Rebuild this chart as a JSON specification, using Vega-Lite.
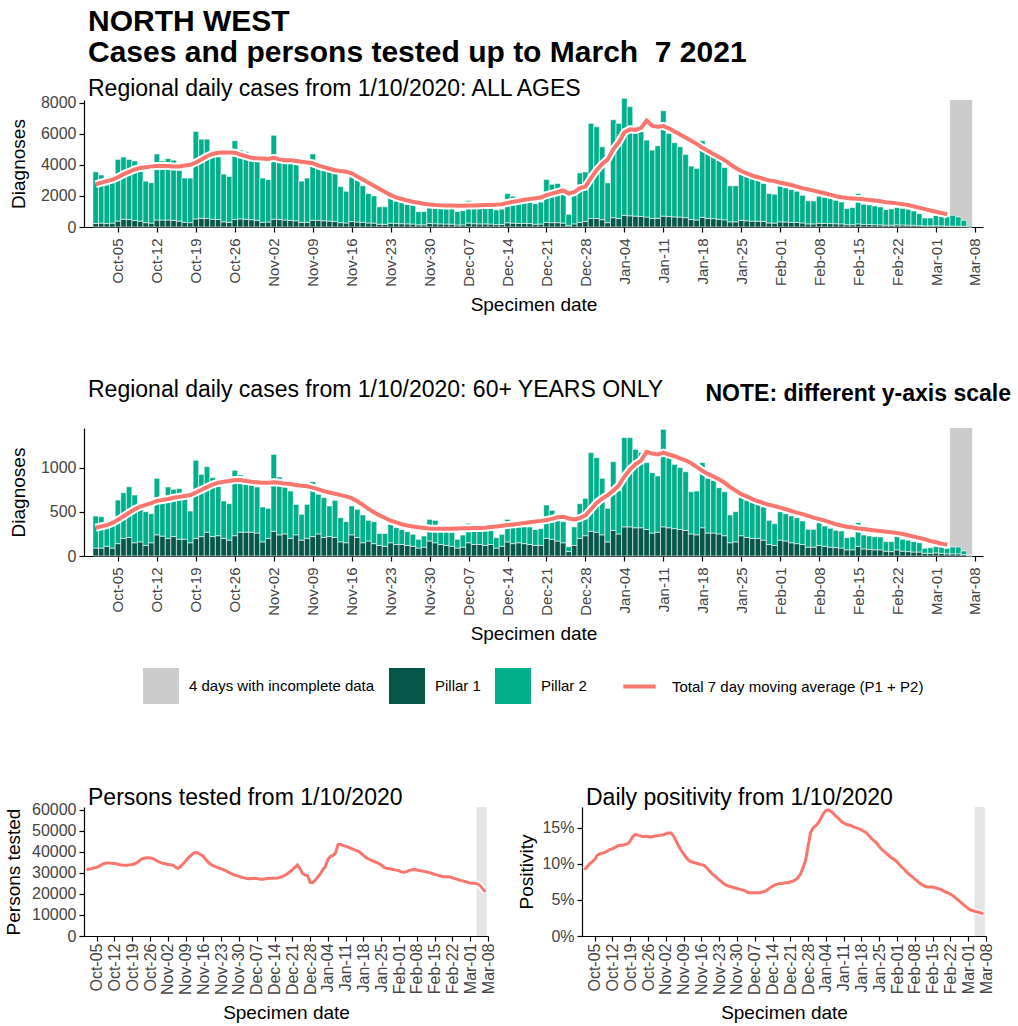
{
"$schema":"https://vega.github.io/schema/vega-lite/v6.json",
"background":"white",
"padding":{"left":4,"top":6,"right":2,"bottom":2},
"config":{
 "font":"Liberation Sans",
 "view":{"stroke":null},
 "axis":{"grid":false,"labelOverlap":false,"domainColor":"black","tickColor":"black","domainWidth":1.2,"tickWidth":1.2,"tickSize":5,"labelColor":"#444444","labelFontSize":16,"titleFontSize":19,"titleFontWeight":"normal","titleColor":"black","labelPadding":3},
 "axisY":{"titlePadding":12},
 "title":{"anchor":"start","frame":"group","color":"black","fontWeight":"normal","subtitleColor":"black"},
 "legend":{"layout":{"bottom":{"anchor":"middle","direction":"horizontal","margin":34}}}
},
"datasets":{
"g":[{"k":"inc","s":"2021/03/03 12:00","e":"2021/03/07 12:00"}],
"d":[
{"d":"2020/10/01","a1":230,"a2":3320,"am":2750,"o1":90,"o2":363,"om":320,"t":31500,"p":9.2},
{"d":"2020/10/02","a1":250,"a2":3100,"am":2850,"o1":90,"o2":356,"om":335,"t":31800,"p":9.6},
{"d":"2020/10/03","a1":220,"a2":2480,"am":2950,"o1":110,"o2":241,"om":350,"t":32000,"p":10.0},
{"d":"2020/10/04","a1":250,"a2":2600,"am":3050,"o1":90,"o2":307,"om":375,"t":32400,"p":10.3},
{"d":"2020/10/05","a1":380,"a2":3970,"am":3200,"o1":140,"o2":494,"om":410,"t":32600,"p":10.6},
{"d":"2020/10/06","a1":500,"a2":4000,"am":3400,"o1":200,"o2":516,"om":450,"t":33200,"p":11.2},
{"d":"2020/10/07","a1":480,"a2":3870,"am":3550,"o1":210,"o2":575,"om":490,"t":33900,"p":11.4},
{"d":"2020/10/08","a1":420,"a2":3830,"am":3700,"o1":150,"o2":541,"om":530,"t":34500,"p":11.5},
{"d":"2020/10/09","a1":380,"a2":3270,"am":3800,"o1":160,"o2":433,"om":560,"t":34700,"p":11.6},
{"d":"2020/10/10","a1":280,"a2":2670,"am":3850,"o1":120,"o2":382,"om":580,"t":34700,"p":11.8},
{"d":"2020/10/11","a1":250,"a2":2600,"am":3900,"o1":150,"o2":329,"om":600,"t":34600,"p":12.0},
{"d":"2020/10/12","a1":450,"a2":4250,"am":3920,"o1":240,"o2":640,"om":625,"t":34500,"p":12.1},
{"d":"2020/10/13","a1":450,"a2":3800,"am":3920,"o1":225,"o2":390,"om":635,"t":34200,"p":12.3},
{"d":"2020/10/14","a1":450,"a2":3950,"am":3930,"o1":200,"o2":582,"om":645,"t":33900,"p":12.5},
{"d":"2020/10/15","a1":430,"a2":3870,"am":3900,"o1":220,"o2":536,"om":660,"t":33700,"p":12.6},
{"d":"2020/10/16","a1":380,"a2":3270,"am":3900,"o1":190,"o2":573,"om":670,"t":33600,"p":12.6},
{"d":"2020/10/17","a1":300,"a2":2850,"am":3950,"o1":190,"o2":490,"om":680,"t":33600,"p":12.7},
{"d":"2020/10/18","a1":280,"a2":2870,"am":4000,"o1":150,"o2":360,"om":690,"t":33800,"p":12.8},
{"d":"2020/10/19","a1":520,"a2":5630,"am":4150,"o1":200,"o2":884,"om":720,"t":34000,"p":13.2},
{"d":"2020/10/20","a1":560,"a2":5090,"am":4350,"o1":220,"o2":705,"om":750,"t":34300,"p":13.8},
{"d":"2020/10/21","a1":550,"a2":5100,"am":4550,"o1":270,"o2":742,"om":780,"t":35000,"p":14.1},
{"d":"2020/10/22","a1":500,"a2":4000,"am":4700,"o1":220,"o2":668,"om":810,"t":36000,"p":14.0},
{"d":"2020/10/23","a1":480,"a2":4020,"am":4780,"o1":230,"o2":560,"om":830,"t":36800,"p":13.9},
{"d":"2020/10/24","a1":330,"a2":3070,"am":4800,"o1":200,"o2":423,"om":840,"t":37100,"p":13.8},
{"d":"2020/10/25","a1":300,"a2":2950,"am":4800,"o1":180,"o2":413,"om":850,"t":37200,"p":13.8},
{"d":"2020/10/26","a1":480,"a2":5070,"am":4780,"o1":230,"o2":741,"om":860,"t":37100,"p":13.8},
{"d":"2020/10/27","a1":520,"a2":4430,"am":4650,"o1":270,"o2":648,"om":860,"t":36900,"p":13.7},
{"d":"2020/10/28","a1":500,"a2":4350,"am":4550,"o1":270,"o2":625,"om":850,"t":36200,"p":13.8},
{"d":"2020/10/29","a1":470,"a2":3930,"am":4450,"o1":270,"o2":610,"om":840,"t":35500,"p":13.9},
{"d":"2020/10/30","a1":430,"a2":3920,"am":4420,"o1":260,"o2":522,"om":835,"t":35000,"p":13.9},
{"d":"2020/10/31","a1":300,"a2":2850,"am":4400,"o1":160,"o2":395,"om":830,"t":34600,"p":14.0},
{"d":"2020/11/01","a1":320,"a2":2730,"am":4380,"o1":200,"o2":340,"om":830,"t":34300,"p":14.0},
{"d":"2020/11/02","a1":500,"a2":5400,"am":4450,"o1":280,"o2":872,"om":835,"t":34000,"p":14.2},
{"d":"2020/11/03","a1":480,"a2":3820,"am":4350,"o1":240,"o2":655,"om":830,"t":33900,"p":14.3},
{"d":"2020/11/04","a1":450,"a2":3750,"am":4300,"o1":250,"o2":532,"om":820,"t":33700,"p":14.3},
{"d":"2020/11/05","a1":420,"a2":3730,"am":4300,"o1":200,"o2":536,"om":815,"t":32800,"p":13.9},
{"d":"2020/11/06","a1":400,"a2":3600,"am":4250,"o1":240,"o2":345,"om":805,"t":32100,"p":13.2},
{"d":"2020/11/07","a1":300,"a2":2650,"am":4200,"o1":180,"o2":292,"om":795,"t":33000,"p":12.5},
{"d":"2020/11/08","a1":300,"a2":2850,"am":4150,"o1":200,"o2":385,"om":790,"t":34300,"p":11.9},
{"d":"2020/11/09","a1":430,"a2":4270,"am":4100,"o1":220,"o2":622,"om":775,"t":35600,"p":11.4},
{"d":"2020/11/10","a1":420,"a2":3380,"am":3950,"o1":250,"o2":449,"om":755,"t":37000,"p":10.9},
{"d":"2020/11/11","a1":400,"a2":3350,"am":3850,"o1":210,"o2":451,"om":735,"t":38200,"p":10.5},
{"d":"2020/11/12","a1":380,"a2":3320,"am":3750,"o1":220,"o2":347,"om":720,"t":39300,"p":10.3},
{"d":"2020/11/13","a1":350,"a2":3150,"am":3650,"o1":210,"o2":421,"om":705,"t":39700,"p":10.2},
{"d":"2020/11/14","a1":280,"a2":2320,"am":3600,"o1":160,"o2":274,"om":690,"t":39300,"p":10.1},
{"d":"2020/11/15","a1":260,"a2":2040,"am":3550,"o1":150,"o2":239,"om":675,"t":38600,"p":10.0},
{"d":"2020/11/16","a1":350,"a2":2850,"am":3450,"o1":240,"o2":327,"om":655,"t":37800,"p":9.9},
{"d":"2020/11/17","a1":320,"a2":2680,"am":3250,"o1":210,"o2":319,"om":620,"t":36200,"p":9.8},
{"d":"2020/11/18","a1":300,"a2":2350,"am":3050,"o1":150,"o2":315,"om":580,"t":34900,"p":9.5},
{"d":"2020/11/19","a1":260,"a2":1890,"am":2850,"o1":170,"o2":234,"om":535,"t":34000,"p":9.1},
{"d":"2020/11/20","a1":250,"a2":1750,"am":2650,"o1":140,"o2":249,"om":495,"t":33300,"p":8.7},
{"d":"2020/11/21","a1":180,"a2":1120,"am":2450,"o1":120,"o2":135,"om":460,"t":32800,"p":8.4},
{"d":"2020/11/22","a1":170,"a2":1130,"am":2250,"o1":110,"o2":145,"om":430,"t":32300,"p":8.1},
{"d":"2020/11/23","a1":240,"a2":1630,"am":2050,"o1":150,"o2":209,"om":400,"t":31900,"p":7.8},
{"d":"2020/11/24","a1":220,"a2":1440,"am":1900,"o1":130,"o2":191,"om":380,"t":31500,"p":7.5},
{"d":"2020/11/25","a1":210,"a2":1350,"am":1800,"o1":130,"o2":168,"om":360,"t":30900,"p":7.2},
{"d":"2020/11/26","a1":200,"a2":1250,"am":1700,"o1":120,"o2":156,"om":345,"t":30200,"p":7.0},
{"d":"2020/11/27","a1":190,"a2":1210,"am":1620,"o1":110,"o2":136,"om":335,"t":29600,"p":6.9},
{"d":"2020/11/28","a1":140,"a2":850,"am":1560,"o1":90,"o2":99,"om":325,"t":29100,"p":6.8},
{"d":"2020/11/29","a1":140,"a2":850,"am":1500,"o1":100,"o2":127,"om":318,"t":28700,"p":6.7},
{"d":"2020/11/30","a1":230,"a2":1320,"am":1450,"o1":170,"o2":245,"om":312,"t":28300,"p":6.6},
{"d":"2020/12/01","a1":210,"a2":1290,"am":1420,"o1":150,"o2":254,"om":310,"t":27900,"p":6.5},
{"d":"2020/12/02","a1":200,"a2":1280,"am":1400,"o1":130,"o2":170,"om":308,"t":27600,"p":6.4},
{"d":"2020/12/03","a1":190,"a2":1260,"am":1390,"o1":120,"o2":170,"om":308,"t":27300,"p":6.3},
{"d":"2020/12/04","a1":180,"a2":1220,"am":1380,"o1":110,"o2":160,"om":310,"t":27200,"p":6.1},
{"d":"2020/12/05","a1":130,"a2":870,"am":1370,"o1":90,"o2":100,"om":312,"t":27300,"p":6.0},
{"d":"2020/12/06","a1":140,"a2":910,"am":1370,"o1":100,"o2":138,"om":313,"t":27400,"p":6.0},
{"d":"2020/12/07","a1":250,"a2":1450,"am":1380,"o1":150,"o2":220,"om":315,"t":27300,"p":6.0},
{"d":"2020/12/08","a1":210,"a2":1290,"am":1390,"o1":130,"o2":170,"om":316,"t":27100,"p":6.0},
{"d":"2020/12/09","a1":200,"a2":1280,"am":1400,"o1":130,"o2":165,"om":318,"t":27000,"p":6.0},
{"d":"2020/12/10","a1":200,"a2":1260,"am":1410,"o1":120,"o2":170,"om":320,"t":27100,"p":6.1},
{"d":"2020/12/11","a1":190,"a2":1260,"am":1420,"o1":130,"o2":200,"om":328,"t":27300,"p":6.2},
{"d":"2020/12/12","a1":150,"a2":950,"am":1440,"o1":90,"o2":118,"om":335,"t":27400,"p":6.4},
{"d":"2020/12/13","a1":160,"a2":990,"am":1470,"o1":110,"o2":136,"om":342,"t":27400,"p":6.7},
{"d":"2020/12/14","a1":270,"a2":1880,"am":1550,"o1":160,"o2":255,"om":350,"t":27500,"p":6.9},
{"d":"2020/12/15","a1":250,"a2":1730,"am":1620,"o1":140,"o2":200,"om":358,"t":27600,"p":7.1},
{"d":"2020/12/16","a1":230,"a2":1570,"am":1680,"o1":150,"o2":254,"om":366,"t":27800,"p":7.2},
{"d":"2020/12/17","a1":230,"a2":1570,"am":1750,"o1":140,"o2":190,"om":374,"t":28200,"p":7.3},
{"d":"2020/12/18","a1":220,"a2":1530,"am":1800,"o1":130,"o2":199,"om":382,"t":28800,"p":7.3},
{"d":"2020/12/19","a1":180,"a2":1320,"am":1850,"o1":120,"o2":180,"om":390,"t":29600,"p":7.4},
{"d":"2020/12/20","a1":190,"a2":1410,"am":1900,"o1":120,"o2":190,"om":398,"t":30500,"p":7.4},
{"d":"2020/12/21","a1":300,"a2":2760,"am":2050,"o1":200,"o2":378,"om":408,"t":31500,"p":7.5},
{"d":"2020/12/22","a1":280,"a2":2470,"am":2150,"o1":190,"o2":328,"om":420,"t":32600,"p":7.6},
{"d":"2020/12/23","a1":280,"a2":2520,"am":2250,"o1":170,"o2":250,"om":440,"t":33700,"p":7.8},
{"d":"2020/12/24","a1":250,"a2":2120,"am":2350,"o1":150,"o2":239,"om":445,"t":32000,"p":8.1},
{"d":"2020/12/25","a1":90,"a2":730,"am":2150,"o1":50,"o2":55,"om":425,"t":29700,"p":8.6},
{"d":"2020/12/26","a1":200,"a2":2170,"am":2250,"o1":120,"o2":210,"om":415,"t":29000,"p":9.5},
{"d":"2020/12/27","a1":300,"a2":3180,"am":2500,"o1":200,"o2":393,"om":430,"t":28600,"p":10.5},
{"d":"2020/12/28","a1":350,"a2":3190,"am":2600,"o1":230,"o2":423,"om":460,"t":25500,"p":12.5},
{"d":"2020/12/29","a1":550,"a2":6120,"am":3150,"o1":280,"o2":891,"om":530,"t":25300,"p":14.4},
{"d":"2020/12/30","a1":550,"a2":5900,"am":3650,"o1":270,"o2":844,"om":600,"t":26500,"p":15.0},
{"d":"2020/12/31","a1":470,"a2":4690,"am":4050,"o1":240,"o2":640,"om":650,"t":28000,"p":15.3},
{"d":"2021/01/01","a1":280,"a2":2560,"am":4350,"o1":160,"o2":380,"om":690,"t":29500,"p":15.7},
{"d":"2021/01/02","a1":600,"a2":6300,"am":5000,"o1":290,"o2":779,"om":740,"t":31500,"p":16.3},
{"d":"2021/01/03","a1":550,"a2":6120,"am":5450,"o1":250,"o2":490,"om":800,"t":33000,"p":17.0},
{"d":"2021/01/04","a1":750,"a2":7530,"am":6100,"o1":330,"o2":1011,"om":900,"t":36500,"p":17.4},
{"d":"2021/01/05","a1":720,"a2":7020,"am":6280,"o1":330,"o2":1011,"om":980,"t":37800,"p":17.5},
{"d":"2021/01/06","a1":700,"a2":5430,"am":6250,"o1":320,"o2":889,"om":1040,"t":38300,"p":17.3},
{"d":"2021/01/07","a1":680,"a2":5450,"am":6380,"o1":320,"o2":851,"om":1080,"t":39500,"p":17.0},
{"d":"2021/01/08","a1":640,"a2":4950,"am":6850,"o1":300,"o2":758,"om":1180,"t":43500,"p":16.6},
{"d":"2021/01/09","a1":550,"a2":4400,"am":6500,"o1":260,"o2":684,"om":1160,"t":43500,"p":16.3},
{"d":"2021/01/10","a1":560,"a2":4660,"am":6450,"o1":270,"o2":636,"om":1150,"t":43000,"p":15.9},
{"d":"2021/01/11","a1":700,"a2":6780,"am":6500,"o1":330,"o2":1105,"om":1170,"t":42600,"p":15.7},
{"d":"2021/01/12","a1":680,"a2":5340,"am":6350,"o1":320,"o2":794,"om":1150,"t":42200,"p":15.5},
{"d":"2021/01/13","a1":650,"a2":4770,"am":6150,"o1":310,"o2":728,"om":1130,"t":41700,"p":15.4},
{"d":"2021/01/14","a1":640,"a2":4520,"am":5950,"o1":300,"o2":701,"om":1105,"t":41200,"p":15.3},
{"d":"2021/01/15","a1":600,"a2":4070,"am":5750,"o1":290,"o2":665,"om":1085,"t":40700,"p":15.1},
{"d":"2021/01/16","a1":480,"a2":3440,"am":5550,"o1":250,"o2":478,"om":1050,"t":40200,"p":15.0},
{"d":"2021/01/17","a1":450,"a2":3320,"am":5350,"o1":240,"o2":496,"om":1010,"t":39300,"p":14.9},
{"d":"2021/01/18","a1":620,"a2":4930,"am":5100,"o1":320,"o2":738,"om":965,"t":38300,"p":14.7},
{"d":"2021/01/19","a1":550,"a2":4180,"am":4900,"o1":260,"o2":620,"om":930,"t":37300,"p":14.5},
{"d":"2021/01/20","a1":540,"a2":4020,"am":4700,"o1":260,"o2":597,"om":900,"t":36600,"p":14.3},
{"d":"2021/01/21","a1":500,"a2":3800,"am":4500,"o1":250,"o2":524,"om":870,"t":36000,"p":13.9},
{"d":"2021/01/22","a1":460,"a2":3370,"am":4300,"o1":230,"o2":498,"om":830,"t":35500,"p":13.5},
{"d":"2021/01/23","a1":330,"a2":2320,"am":4050,"o1":150,"o2":315,"om":780,"t":35000,"p":13.2},
{"d":"2021/01/24","a1":330,"a2":2320,"am":3800,"o1":160,"o2":342,"om":740,"t":34500,"p":12.9},
{"d":"2021/01/25","a1":430,"a2":3120,"am":3600,"o1":230,"o2":438,"om":700,"t":33800,"p":12.4},
{"d":"2021/01/26","a1":400,"a2":2890,"am":3450,"o1":210,"o2":421,"om":675,"t":32700,"p":12.0},
{"d":"2021/01/27","a1":380,"a2":2740,"am":3300,"o1":200,"o2":404,"om":645,"t":32200,"p":11.7},
{"d":"2021/01/28","a1":370,"a2":2650,"am":3200,"o1":200,"o2":385,"om":620,"t":32000,"p":11.4},
{"d":"2021/01/29","a1":350,"a2":2450,"am":3100,"o1":180,"o2":375,"om":600,"t":31800,"p":11.1},
{"d":"2021/01/30","a1":260,"a2":1890,"am":3000,"o1":130,"o2":274,"om":580,"t":31500,"p":10.8},
{"d":"2021/01/31","a1":250,"a2":1860,"am":2950,"o1":120,"o2":246,"om":565,"t":31300,"p":10.6},
{"d":"2021/02/01","a1":330,"a2":2320,"am":2850,"o1":180,"o2":322,"om":548,"t":31000,"p":10.3},
{"d":"2021/02/02","a1":320,"a2":2200,"am":2780,"o1":170,"o2":309,"om":530,"t":30400,"p":9.9},
{"d":"2021/02/03","a1":300,"a2":2110,"am":2700,"o1":150,"o2":303,"om":510,"t":30300,"p":9.5},
{"d":"2021/02/04","a1":290,"a2":2010,"am":2600,"o1":140,"o2":294,"om":492,"t":30600,"p":9.2},
{"d":"2021/02/05","a1":260,"a2":1780,"am":2500,"o1":130,"o2":267,"om":475,"t":31200,"p":8.8},
{"d":"2021/02/06","a1":200,"a2":1480,"am":2420,"o1":100,"o2":202,"om":455,"t":31500,"p":8.5},
{"d":"2021/02/07","a1":200,"a2":1480,"am":2340,"o1":100,"o2":202,"om":435,"t":31600,"p":8.2},
{"d":"2021/02/08","a1":240,"a2":1740,"am":2250,"o1":120,"o2":258,"om":418,"t":31400,"p":7.9},
{"d":"2021/02/09","a1":230,"a2":1670,"am":2170,"o1":110,"o2":230,"om":400,"t":31100,"p":7.6},
{"d":"2021/02/10","a1":220,"a2":1610,"am":2080,"o1":100,"o2":214,"om":380,"t":30900,"p":7.3},
{"d":"2021/02/11","a1":210,"a2":1510,"am":1980,"o1":95,"o2":196,"om":360,"t":30700,"p":7.1},
{"d":"2021/02/12","a1":200,"a2":1410,"am":1920,"o1":90,"o2":193,"om":345,"t":30400,"p":6.9},
{"d":"2021/02/13","a1":150,"a2":1040,"am":1870,"o1":70,"o2":138,"om":332,"t":30100,"p":6.8},
{"d":"2021/02/14","a1":150,"a2":1100,"am":1840,"o1":70,"o2":145,"om":322,"t":29700,"p":6.8},
{"d":"2021/02/15","a1":200,"a2":1950,"am":1810,"o1":110,"o2":268,"om":312,"t":29300,"p":6.8},
{"d":"2021/02/16","a1":170,"a2":1290,"am":1780,"o1":80,"o2":158,"om":305,"t":28900,"p":6.7},
{"d":"2021/02/17","a1":160,"a2":1260,"am":1740,"o1":75,"o2":152,"om":298,"t":28600,"p":6.6},
{"d":"2021/02/18","a1":150,"a2":1200,"am":1700,"o1":70,"o2":149,"om":290,"t":28300,"p":6.5},
{"d":"2021/02/19","a1":140,"a2":1150,"am":1650,"o1":70,"o2":145,"om":282,"t":28200,"p":6.3},
{"d":"2021/02/20","a1":120,"a2":1000,"am":1600,"o1":55,"o2":108,"om":275,"t":28100,"p":6.1},
{"d":"2021/02/21","a1":120,"a2":1040,"am":1560,"o1":50,"o2":113,"om":268,"t":28000,"p":6.0},
{"d":"2021/02/22","a1":140,"a2":1110,"am":1520,"o1":70,"o2":232,"om":260,"t":27700,"p":5.8},
{"d":"2021/02/23","a1":130,"a2":1070,"am":1470,"o1":55,"o2":134,"om":250,"t":27300,"p":5.6},
{"d":"2021/02/24","a1":120,"a2":1020,"am":1410,"o1":50,"o2":128,"om":235,"t":26900,"p":5.3},
{"d":"2021/02/25","a1":110,"a2":920,"am":1330,"o1":45,"o2":118,"om":220,"t":26500,"p":5.0},
{"d":"2021/02/26","a1":90,"a2":770,"am":1240,"o1":45,"o2":106,"om":205,"t":26200,"p":4.7},
{"d":"2021/02/27","a1":70,"a2":510,"am":1150,"o1":30,"o2":57,"om":188,"t":25900,"p":4.4},
{"d":"2021/02/28","a1":70,"a2":510,"am":1060,"o1":30,"o2":64,"om":170,"t":25500,"p":4.1},
{"d":"2021/03/01","a1":80,"a2":675,"am":980,"o1":35,"o2":71,"om":155,"t":25200,"p":3.8},
{"d":"2021/03/02","a1":70,"a2":620,"am":900,"o1":30,"o2":72,"om":140,"t":25100,"p":3.6},
{"d":"2021/03/03","a1":60,"a2":585,"am":820,"o1":25,"o2":62,"om":128,"t":25100,"p":3.5},
{"d":"2021/03/04","a1":60,"a2":695,"o1":25,"o2":77,"t":24700,"p":3.4},
{"d":"2021/03/05","a1":50,"a2":595,"o1":25,"o2":77,"t":23800,"p":3.3},
{"d":"2021/03/06","a1":40,"a2":390,"o1":15,"o2":42,"t":22200,"p":3.2},
{"d":"2021/03/07","a1":10,"a2":90,"o1":3,"o2":8,"t":21000,"p":3.1}
]},
"spacing":82,
"vconcat":[
{"spacing":64,
 "resolve":{"scale":{"color":"independent","stroke":"independent"}},
 "vconcat":[
 {"width":899,"height":127,
  "title":{"text":["NORTH WEST","Cases and persons tested up to March\u00a0 7 2021"],"fontSize":30,"fontWeight":"bold","lineHeight":31,"subtitle":"Regional daily cases from 1/10/2020: ALL AGES","subtitleFontSize":23,"subtitlePadding":10,"offset":-6,"dx":4},
  "layer":[
   {"data":{"name":"g"},"mark":"rect",
    "encoding":{"x":{"field":"s","type":"temporal","title":"Specimen date","scale":{"domain":[{"year":2020,"month":9,"date":29,"hours":19},{"year":2021,"month":3,"date":8,"hours":13}]}},"x2":{"field":"e"},
     "color":{"field":"k","type":"nominal","scale":{"domain":["inc","a1","a2"],"range":["#cccccc","#06574a","#00af8c"]},"legend":null}}},
   {"data":{"name":"d"},"transform":[{"fold":["a1","a2"],"as":["k","n"]}],
    "mark":{"type":"bar","size":5.6,"stroke":"white","strokeWidth":0.6},
    "encoding":{
     "x":{"field":"d","type":"temporal","title":"Specimen date","scale":{"domain":[{"year":2020,"month":9,"date":29,"hours":19},{"year":2021,"month":3,"date":8,"hours":13}]},
      "axis":{"format":"%b-%d","labelAngle":270,"labelFontSize":15,"labelPadding":6,"titlePadding":9,"labelOverlap":false,"tickCount":40,"values":[{"year":2020,"month":10,"date":5},{"year":2020,"month":10,"date":12},{"year":2020,"month":10,"date":19},{"year":2020,"month":10,"date":26},{"year":2020,"month":11,"date":2},{"year":2020,"month":11,"date":9},{"year":2020,"month":11,"date":16},{"year":2020,"month":11,"date":23},{"year":2020,"month":11,"date":30},{"year":2020,"month":12,"date":7},{"year":2020,"month":12,"date":14},{"year":2020,"month":12,"date":21},{"year":2020,"month":12,"date":28},{"year":2021,"month":1,"date":4},{"year":2021,"month":1,"date":11},{"year":2021,"month":1,"date":18},{"year":2021,"month":1,"date":25},{"year":2021,"month":2,"date":1},{"year":2021,"month":2,"date":8},{"year":2021,"month":2,"date":15},{"year":2021,"month":2,"date":22},{"year":2021,"month":3,"date":1},{"year":2021,"month":3,"date":8}]}},
     "y":{"field":"n","type":"quantitative","stack":"zero","title":"Diagnoses","scale":{"domain":[0,8170],"nice":false},"axis":{"values":[0,2000,4000,6000,8000],"tickCount":40,"format":"d","labelOverlap":false}},
     "color":{"field":"k","type":"nominal","legend":null},
     "order":{"field":"k","sort":"ascending"}}},
   {"data":{"name":"d"},"mark":{"type":"line","color":"white","strokeWidth":8},
    "encoding":{"x":{"field":"d","type":"temporal","title":"Specimen date"},"y":{"field":"am","type":"quantitative","title":"Diagnoses"}}},
   {"data":{"name":"d"},"mark":{"type":"line","color":"#F8766D","strokeWidth":4},
    "encoding":{"x":{"field":"d","type":"temporal","title":"Specimen date"},"y":{"field":"am","type":"quantitative","title":"Diagnoses"}}}
  ]},
 {"title":{"text":"NOTE: different y-axis scale","fontSize":23,"fontWeight":"bold","anchor":"end","frame":"bounds","offset":-27,"dx":28},
  "resolve":{"scale":{"color":"independent","stroke":"independent"}},
  "vconcat":[
  {"width":899,"height":128,
   "title":{"text":"Regional daily cases from 1/10/2020: 60+ YEARS ONLY","fontSize":23,"offset":26,"dx":4},
   "layer":[
    {"data":{"name":"g"},"mark":"rect",
     "encoding":{"x":{"field":"s","type":"temporal","title":"Specimen date","scale":{"domain":[{"year":2020,"month":9,"date":29,"hours":19},{"year":2021,"month":3,"date":8,"hours":13}]}},"x2":{"field":"e"},
      "color":{"field":"k","type":"nominal","scale":{"domain":["inc","o1","o2"],"range":["#cccccc","#06574a","#00af8c"]}}}},
    {"data":{"name":"d"},"transform":[{"fold":["o1","o2"],"as":["k","n"]}],
     "mark":{"type":"bar","size":5.6,"stroke":"white","strokeWidth":0.6},
     "encoding":{
      "x":{"field":"d","type":"temporal","title":"Specimen date","scale":{"domain":[{"year":2020,"month":9,"date":29,"hours":19},{"year":2021,"month":3,"date":8,"hours":13}]},
       "axis":{"format":"%b-%d","labelAngle":270,"labelFontSize":15,"labelPadding":6,"titlePadding":9,"labelOverlap":false,"tickCount":40,"values":[{"year":2020,"month":10,"date":5},{"year":2020,"month":10,"date":12},{"year":2020,"month":10,"date":19},{"year":2020,"month":10,"date":26},{"year":2020,"month":11,"date":2},{"year":2020,"month":11,"date":9},{"year":2020,"month":11,"date":16},{"year":2020,"month":11,"date":23},{"year":2020,"month":11,"date":30},{"year":2020,"month":12,"date":7},{"year":2020,"month":12,"date":14},{"year":2020,"month":12,"date":21},{"year":2020,"month":12,"date":28},{"year":2021,"month":1,"date":4},{"year":2021,"month":1,"date":11},{"year":2021,"month":1,"date":18},{"year":2021,"month":1,"date":25},{"year":2021,"month":2,"date":1},{"year":2021,"month":2,"date":8},{"year":2021,"month":2,"date":15},{"year":2021,"month":2,"date":22},{"year":2021,"month":3,"date":1},{"year":2021,"month":3,"date":8}]}},
      "y":{"field":"n","type":"quantitative","stack":"zero","title":"Diagnoses","scale":{"domain":[0,1450],"nice":false},"axis":{"values":[0,500,1000],"tickCount":40,"format":"d","labelOverlap":false}},
      "color":{"field":"k","type":"nominal","legend":{"orient":"bottom","direction":"horizontal","title":null,"symbolType":"square","symbolSize":1296,"symbolStrokeWidth":0,"labelFontSize":15,"labelColor":"black","labelOffset":10,"columnPadding":14,"labelLimit":300,"offset":24,"labelExpr":"datum.label == 'inc' ? '4 days with incomplete data' : datum.label == 'o1' ? 'Pillar 1' : 'Pillar 2'"}},
      "order":{"field":"k","sort":"ascending"}}},
    {"data":{"name":"d"},"mark":{"type":"line","color":"white","strokeWidth":8},
     "encoding":{"x":{"field":"d","type":"temporal","title":"Specimen date"},"y":{"field":"om","type":"quantitative","title":"Diagnoses"}}},
    {"data":{"name":"d"},"mark":{"type":"line","strokeWidth":4},
     "encoding":{"x":{"field":"d","type":"temporal","title":"Specimen date"},"y":{"field":"om","type":"quantitative","title":"Diagnoses"},
      "stroke":{"datum":"Total 7 day moving average (P1 + P2)","type":"nominal","scale":{"range":["#F8766D"]},"legend":{"orient":"bottom","title":null,"symbolType":"stroke","symbolSize":1050,"symbolStrokeWidth":4,"labelFontSize":15,"labelColor":"black","labelOffset":14,"labelLimit":400,"offset":24}}}}
   ]}
  ]}
 ]},
{"spacing":19,
 "hconcat":[
 {"width":404,"height":129,
  "title":{"text":"Persons tested from 1/10/2020","fontSize":23,"offset":-8,"dx":4},
  "layer":[
   {"data":{"name":"g"},"mark":{"type":"rect","color":"#e5e5e5"},
    "encoding":{"x":{"field":"s","type":"temporal","title":"Specimen date","scale":{"domain":[{"year":2020,"month":9,"date":30},{"year":2021,"month":3,"date":8}]},
      "axis":{"format":"%b-%d","labelAngle":270,"labelFontSize":16,"labelPadding":2,"titlePadding":9,"labelOverlap":false,"tickCount":40,"values":[{"year":2020,"month":10,"date":5},{"year":2020,"month":10,"date":12},{"year":2020,"month":10,"date":19},{"year":2020,"month":10,"date":26},{"year":2020,"month":11,"date":2},{"year":2020,"month":11,"date":9},{"year":2020,"month":11,"date":16},{"year":2020,"month":11,"date":23},{"year":2020,"month":11,"date":30},{"year":2020,"month":12,"date":7},{"year":2020,"month":12,"date":14},{"year":2020,"month":12,"date":21},{"year":2020,"month":12,"date":28},{"year":2021,"month":1,"date":4},{"year":2021,"month":1,"date":11},{"year":2021,"month":1,"date":18},{"year":2021,"month":1,"date":25},{"year":2021,"month":2,"date":1},{"year":2021,"month":2,"date":8},{"year":2021,"month":2,"date":15},{"year":2021,"month":2,"date":22},{"year":2021,"month":3,"date":1},{"year":2021,"month":3,"date":8}]}},
     "x2":{"field":"e"}}},
   {"data":{"name":"d"},"mark":{"type":"line","color":"white","strokeWidth":6},
    "encoding":{"x":{"field":"d","type":"temporal","title":"Specimen date"},"y":{"field":"t","type":"quantitative","title":"Persons tested","scale":{"domain":[0,61300],"nice":false},"axis":{"values":[0,10000,20000,30000,40000,50000,60000],"tickCount":40,"format":"d","titlePadding":8,"labelOverlap":false}}}},
   {"data":{"name":"d"},"mark":{"type":"line","color":"#F8766D","strokeWidth":3},
    "encoding":{"x":{"field":"d","type":"temporal","title":"Specimen date"},"y":{"field":"t","type":"quantitative","title":"Persons tested"}}}
  ]},
 {"width":404,"height":129,
  "title":{"text":"Daily positivity from 1/10/2020","fontSize":23,"offset":-12,"dx":4},
  "layer":[
   {"data":{"name":"g"},"mark":{"type":"rect","color":"#e5e5e5"},
    "encoding":{"x":{"field":"s","type":"temporal","title":"Specimen date","scale":{"domain":[{"year":2020,"month":9,"date":30},{"year":2021,"month":3,"date":8}]},
      "axis":{"format":"%b-%d","labelAngle":270,"labelFontSize":16,"labelPadding":2,"titlePadding":9,"labelOverlap":false,"tickCount":40,"values":[{"year":2020,"month":10,"date":5},{"year":2020,"month":10,"date":12},{"year":2020,"month":10,"date":19},{"year":2020,"month":10,"date":26},{"year":2020,"month":11,"date":2},{"year":2020,"month":11,"date":9},{"year":2020,"month":11,"date":16},{"year":2020,"month":11,"date":23},{"year":2020,"month":11,"date":30},{"year":2020,"month":12,"date":7},{"year":2020,"month":12,"date":14},{"year":2020,"month":12,"date":21},{"year":2020,"month":12,"date":28},{"year":2021,"month":1,"date":4},{"year":2021,"month":1,"date":11},{"year":2021,"month":1,"date":18},{"year":2021,"month":1,"date":25},{"year":2021,"month":2,"date":1},{"year":2021,"month":2,"date":8},{"year":2021,"month":2,"date":15},{"year":2021,"month":2,"date":22},{"year":2021,"month":3,"date":1},{"year":2021,"month":3,"date":8}]}},
     "x2":{"field":"e"}}},
   {"data":{"name":"d"},"mark":{"type":"line","color":"white","strokeWidth":6},
    "encoding":{"x":{"field":"d","type":"temporal","title":"Specimen date"},"y":{"field":"p","type":"quantitative","title":"Positivity","scale":{"domain":[0,17.9],"nice":false},"axis":{"values":[0,5,10,15],"tickCount":40,"labelExpr":"datum.value + '%'","titlePadding":5,"labelOverlap":false}}}},
   {"data":{"name":"d"},"mark":{"type":"line","color":"#F8766D","strokeWidth":3},
    "encoding":{"x":{"field":"d","type":"temporal","title":"Specimen date"},"y":{"field":"p","type":"quantitative","title":"Positivity"}}}
  ]}
 ]}
]
}
